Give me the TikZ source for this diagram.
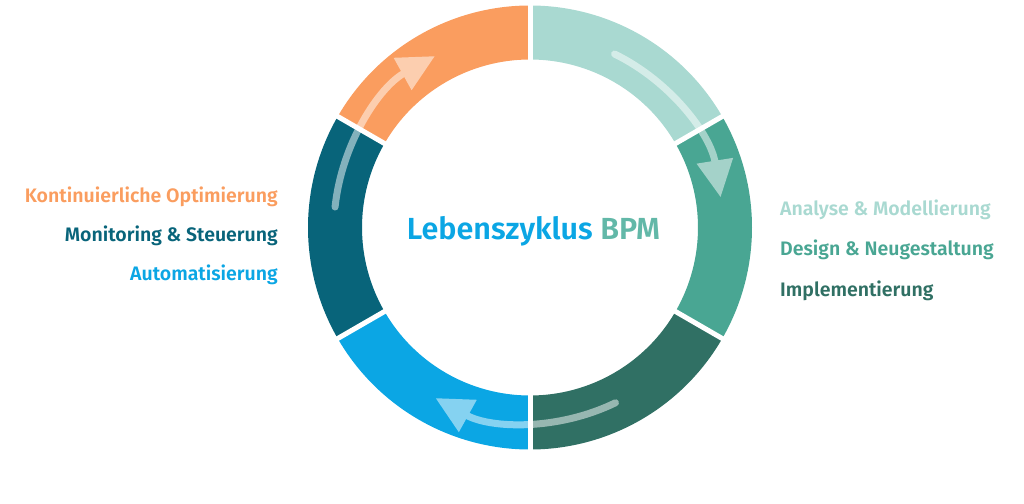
\documentclass[tikz,border=0pt]{standalone}
\usepackage{fontspec}
\setmainfont{Fira Sans SemiBold}
\usetikzlibrary{arrows.meta}

\definecolor{ltealc}{HTML}{A9D9D1}
\definecolor{mtealc}{HTML}{49A693}
\definecolor{dgreenc}{HTML}{307064}
\definecolor{sbluec}{HTML}{0BA6E4}
\definecolor{dtealc}{HTML}{08647A}
\definecolor{orangec}{HTML}{FA9D5F}
\definecolor{bpmc}{HTML}{62B8A8}

\tikzset{
  phase/.style={inner sep=0,font=\fontsize{19.5}{22}\selectfont},
  gapline/.style={white,line width=5},
  flowarrow/.style={white,line width=7,line cap=round,-{Triangle[length=37,width=35]}}
}

\begin{document}
\begin{tikzpicture}[x=1pt,y=1pt]

      \useasboundingbox (-530,-275.5) rectangle (494,227.5);

      % ring segments
      \foreach \a/\c in {90/ltealc,30/mtealc,-30/dgreenc,-90/sbluec,-150/dtealc,150/orangec}
      \fill[\c] (\a:222) arc[start angle=\a,end angle=\a-60,radius=222] -- ({\a-60}:168) arc[start angle=\a-60,end angle=\a,radius=168] -- cycle;

      % gaps
      \foreach \a in {90,30,-30,-90,-150,150}
      \draw[gapline] (\a:160) -- (\a:230);

      % arrows
      \begin{scope}[transparency group,opacity=0.5]
      \draw[flowarrow] (64:193) arc[start angle=64,end angle=9,radius=193];
      \draw[flowarrow] (-64:195) arc[start angle=-64,end angle=-119,radius=195];
      \draw[flowarrow] (174:196) arc[start angle=174,end angle=119,radius=196];
      \end{scope}

      \node[anchor=base,inner sep=0,font=\fontsize{30.5}{36}\selectfont] (title) at (3.5,-11.8) {\textcolor{sbluec}{Lebenszyklus} \textcolor{bpmc}{BPM}};

      \foreach \n/\y/\c/\t in {opt/25.2/orangec/Kontinuierliche Optimierung,mon/-14.2/dtealc/Monitoring \& Steuerung,auto/-53.2/sbluec/Automatisierung}
      \node[phase,anchor=base east,text=\c] (\n) at (-252,\y) {\t};

      \foreach \n/\y/\c/\t in {ana/12.5/ltealc/Analyse \& Modellierung,des/-28.2/mtealc/Design \& Neugestaltung,impl/-68.5/dgreenc/Implementierung}
      \node[phase,anchor=base west,text=\c] (\n) at (250,\y) {\t};

\end{tikzpicture}
\end{document}
